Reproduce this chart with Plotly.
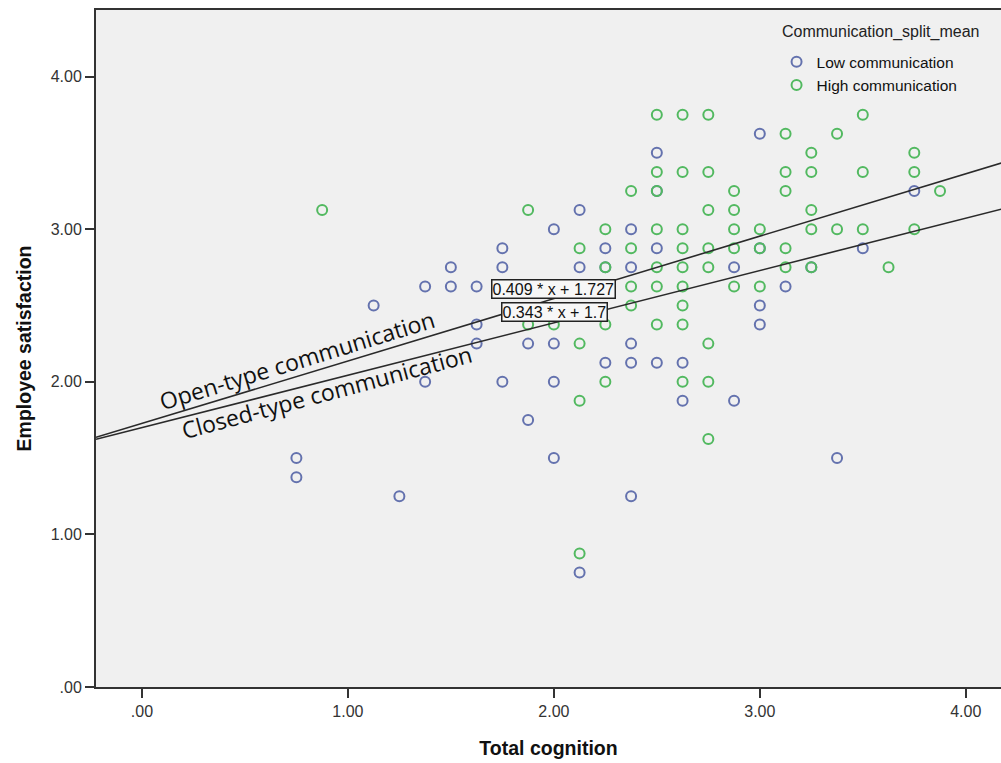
import numpy as np
import plotly.graph_objects as go

# ---- data ----
low_x = [0.75, 0.75, 1.25, 1.125, 1.375, 1.375, 1.5, 1.5, 1.625, 1.625, 1.625, 1.75, 1.75, 1.75,
         1.875, 1.875, 2.0, 2.0, 2.0, 2.0, 2.125, 2.125, 2.125, 2.25, 2.25, 2.25, 2.375, 2.375,
         2.375, 2.375, 2.375, 2.5, 2.5, 2.5, 2.5, 2.625, 2.625, 2.875, 2.875, 3.0, 3.0, 3.0, 3.0,
         3.125, 3.25, 3.375, 3.5, 3.75]
low_y = [1.5, 1.375, 1.25, 2.5, 2.625, 2.0, 2.75, 2.625, 2.625, 2.375, 2.25, 2.875, 2.75, 2.0,
         2.25, 1.75, 3.0, 2.25, 2.0, 1.5, 3.125, 2.75, 0.75, 2.875, 2.75, 2.125, 3.0, 2.75,
         2.25, 2.125, 1.25, 3.5, 3.25, 2.875, 2.125, 2.125, 1.875, 2.75, 1.875, 3.625, 2.875, 2.5, 2.375,
         2.625, 2.75, 1.5, 2.875, 3.25]

high_x = [0.875, 1.875, 1.875, 2.0, 2.125, 2.125, 2.125, 2.125, 2.25, 2.25, 2.25, 2.25, 2.375, 2.375,
          2.375, 2.375, 2.5, 2.5, 2.5, 2.5, 2.5, 2.5, 2.5, 2.625, 2.625, 2.625, 2.625, 2.625, 2.625,
          2.625, 2.625, 2.625, 2.75, 2.75, 2.75, 2.75, 2.75, 2.75, 2.75, 2.75, 2.875, 2.875, 2.875,
          2.875, 2.875, 3.0, 3.0, 3.0, 3.125, 3.125, 3.125, 3.125, 3.125, 3.25, 3.25, 3.25, 3.25, 3.25,
          3.375, 3.375, 3.5, 3.5, 3.5, 3.625, 3.75, 3.75, 3.75, 3.875]
high_y = [3.125, 3.125, 2.375, 2.375, 2.875, 2.25, 1.875, 0.875, 3.0, 2.75, 2.375, 2.0, 3.25, 2.875,
          2.625, 2.5, 3.75, 3.375, 3.25, 3.0, 2.75, 2.625, 2.375, 3.75, 3.375, 3.0, 2.875, 2.75, 2.625,
          2.5, 2.375, 2.0, 3.75, 3.375, 3.125, 2.875, 2.75, 2.25, 2.0, 1.625, 3.25, 3.125, 3.0,
          2.875, 2.625, 3.0, 2.875, 2.625, 3.625, 3.375, 3.25, 2.875, 2.75, 3.5, 3.375, 3.125, 3.0, 2.75,
          3.625, 3.0, 3.75, 3.375, 3.0, 2.75, 3.5, 3.375, 3.0, 3.25]

series_names = ["Low communication", "High communication"]
reg_names = ["Open-type communication", "Closed-type communication"]
reg_slopes = [0.409, 0.343]
reg_intercepts = [1.727, 1.7]
reg_labels = ["0.409 * x + 1.727", "0.343 * x + 1.7"]

x_ticks = [0, 1, 2, 3, 4]
x_ticktext = [".00", "1.00", "2.00", "3.00", "4.00"]
y_ticks = [0, 1, 2, 3, 4]
y_ticktext = [".00", "1.00", "2.00", "3.00", "4.00"]

XMIN, XMAX = -0.223, 4.171
YMIN, YMAX = 0.0, 4.436

BLUE = "#6472ae"
GREEN = "#52b960"
FONT = "Liberation Sans, Arial, sans-serif"

fig = go.Figure()

fig.add_trace(go.Scatter(x=low_x, y=low_y, mode="markers", name=series_names[0],
                         marker=dict(symbol="circle-open", size=10, color=BLUE,
                                     line=dict(width=2, color=BLUE))))
fig.add_trace(go.Scatter(x=high_x, y=high_y, mode="markers", name=series_names[1],
                         marker=dict(symbol="circle-open", size=10, color=GREEN,
                                     line=dict(width=2, color=GREEN))))

xl = np.array([XMIN, XMAX + 0.1])
for nm, m, b in zip(reg_names, reg_slopes, reg_intercepts):
    fig.add_trace(go.Scatter(x=xl, y=m * xl + b, mode="lines", name=nm, showlegend=False,
                             line=dict(color="#2a2a2a", width=1.6), hoverinfo="skip"))

annotations = []
# equation boxes
eq_pos = [(1.997, 2.611), (2.004, 2.454)]
for txt, (ax, ay) in zip(reg_labels, eq_pos):
    annotations.append(dict(x=ax, y=ay, xref="x", yref="y", text=txt, showarrow=False,
                            font=dict(family=FONT, size=16, color="#111"),
                            bgcolor="#f7f7f7", bordercolor="#222", borderwidth=1.5, borderpad=0))
# rotated line labels
annotations.append(dict(x=0.754, y=2.14, xref="x", yref="y", text=reg_names[0], showarrow=False,
                        textangle=-17, font=dict(family="Open Sans, sans-serif", size=23, color="#111")))
annotations.append(dict(x=0.895, y=1.935, xref="x", yref="y", text=reg_names[1], showarrow=False,
                        textangle=-15, font=dict(family="Open Sans, sans-serif", size=23, color="#111")))
# legend title
annotations.append(dict(x=0.867, y=0.968, xref="paper", yref="paper", text="Communication_split_mean",
                        showarrow=False, xanchor="center", yanchor="middle",
                        font=dict(family=FONT, size=16, color="#222")))

fig.update_layout(
    width=1001, height=763,
    margin=dict(l=96, r=0, t=10, b=76),
    paper_bgcolor="white",
    plot_bgcolor="#f0f0f0",
    showlegend=True,
    legend=dict(x=0.752, y=0.948, xanchor="left", yanchor="top", bgcolor="rgba(0,0,0,0)",
                font=dict(family=FONT, size=15.5, color="#111"), itemwidth=30, tracegroupgap=0),
    annotations=annotations,
    xaxis=dict(range=[XMIN, XMAX], tickvals=x_ticks, ticktext=x_ticktext, showgrid=False,
               zeroline=False, showline=True, linecolor="#333", linewidth=2, mirror=True,
               ticks="outside", ticklen=9, tickwidth=2, tickcolor="#333",
               tickfont=dict(family=FONT, size=16, color="#333"),
               title=dict(text="<b>Total cognition</b>", standoff=22,
                          font=dict(family=FONT, size=19.5, color="#111"))),
    yaxis=dict(range=[YMIN, YMAX], tickvals=y_ticks, ticktext=y_ticktext, showgrid=False,
               zeroline=False, showline=True, linecolor="#333", linewidth=2,
               ticks="outside", ticklen=9, tickwidth=2, tickcolor="#333",
               tickfont=dict(family=FONT, size=16, color="#333"),
               title=dict(text="<b>Employee satisfaction</b>", standoff=14,
                          font=dict(family=FONT, size=19.5, color="#111"))),
)

fig.write_html("out.html", config={"displayModeBar": False},
               post_script="document.body.style.margin='0px';")
